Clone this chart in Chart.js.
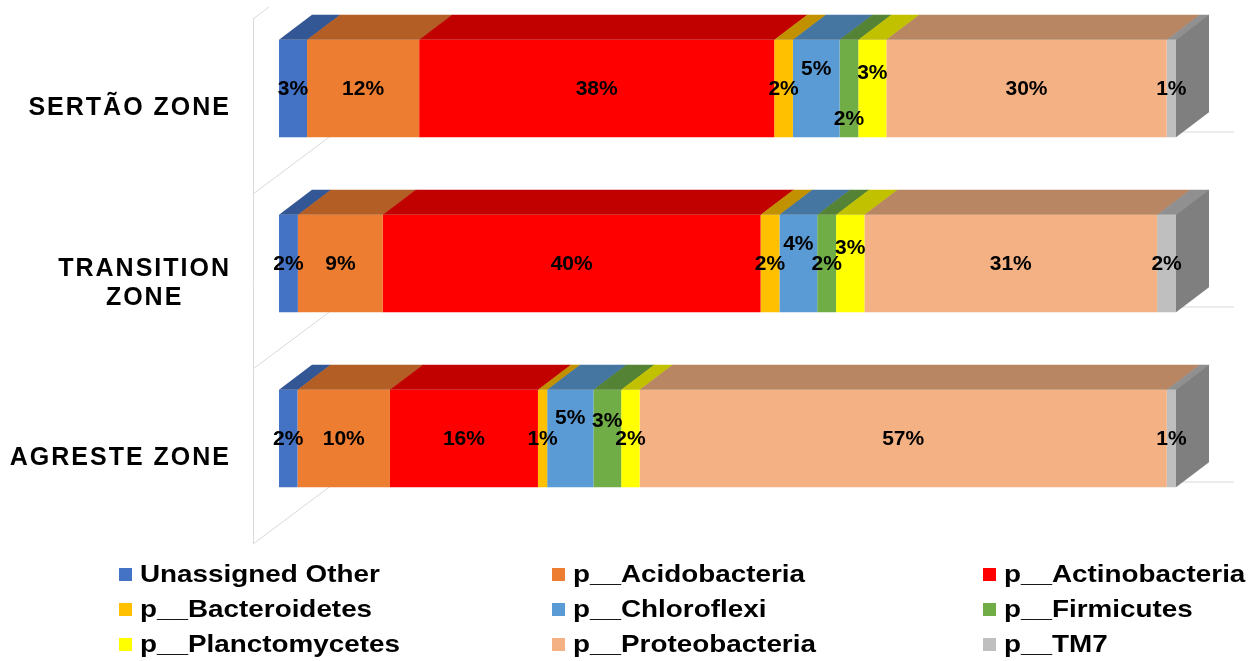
<!DOCTYPE html>
<html>
<head>
<meta charset="utf-8">
<title>Phyla by zone</title>
<script src="https://cdn.jsdelivr.net/npm/chart.js@4.4.1/dist/chart.umd.min.js"></script>
<style>
  html, body { margin: 0; padding: 0; background: #ffffff; }
  #wrap { position: relative; width: 1258px; height: 661px; overflow: hidden; }
  #c { position: absolute; left: 0; top: 0; }
  #legend { position: absolute; left: 0; top: 0; width: 1258px; height: 661px; pointer-events: none;
            font-family: "Liberation Sans", Arial, sans-serif; font-weight: bold; font-size: 24px; color: #000; }
  .item { position: absolute; height: 34px; display: flex; align-items: center; }
  .box { width: 13px; height: 13px; margin-right: 8px; flex: none; }
  .txt { display: inline-block; white-space: nowrap; transform: scaleX(1.16); transform-origin: left center; }
</style>
</head>
<body>
<div id="wrap">
  <canvas id="c" width="1258" height="661"></canvas>
  <div id="legend"></div>
</div>
<script>
// Zones (category axis) and their tick labels
const zones = ['SERTÃO ZONE', 'TRANSITION ZONE', 'AGRESTE ZONE'];
const zoneTickLabels = [['SERTÃO ZONE'], ['TRANSITION', 'ZONE'], ['AGRESTE ZONE']];

// Phyla (series)
const phyla = ['Unassigned Other', 'p__Acidobacteria', 'p__Actinobacteria',
               'p__Bacteroidetes', 'p__Chloroflexi', 'p__Firmicutes',
               'p__Planctomycetes', 'p__Proteobacteria', 'p__TM7'];

// Relative abundance (%) per zone: Sertão, Transition, Agreste
const unassignedOther = [3, 2, 2];
const acidobacteria   = [12, 9, 10];
const actinobacteria  = [38, 40, 16];
const bacteroidetes   = [2, 2, 1];
const chloroflexi     = [5, 4, 5];
const firmicutes      = [2, 2, 3];
const planctomycetes  = [3, 3, 2];
const proteobacteria  = [30, 31, 57];
const tm7             = [1, 2, 1];

const seriesValues = [unassignedOther, acidobacteria, actinobacteria, bacteroidetes,
                      chloroflexi, firmicutes, planctomycetes, proteobacteria, tm7];

// Series colours
const colors = ['#4472C4', '#ED7D31', '#FF0000', '#FFC000', '#5B9BD5',
                '#70AD47', '#FFFF00', '#F4B183', '#BFBFBF'];

// Vertical nudges for value labels on thin neighbouring segments (px), per series per zone
const labelNudge = {
  4: [-20, -20, -21],
  5: [30, 0, -18],
  6: [-16, -16, 0]
};

// 100% stacked: each zone's bar fills the axis, a segment spans its share of the zone total
const zoneTotals = zones.map((_, i) => seriesValues.reduce((s, arr) => s + arr[i], 0));

const datasets = phyla.map((name, d) => ({
  label: name,
  data: seriesValues[d].map((v, i) => v / zoneTotals[i] * 100),
  raw: seriesValues[d],
  backgroundColor: colors[d],
  borderWidth: 0,
  barPercentage: 0.557,
  categoryPercentage: 1.0
}));

// Fake depth of the 3-D look
const DEPTH_X = 33, DEPTH_Y = -25;

function shade(hex, f) {
  const n = parseInt(hex.slice(1), 16);
  const r = Math.round(((n >> 16) & 255) * f);
  const g = Math.round(((n >> 8) & 255) * f);
  const b = Math.round((n & 255) * f);
  return `rgb(${r},${g},${b})`;
}

// Floor / back wall guide lines behind the bars
const wallPlugin = {
  id: 'wall',
  beforeDatasetsDraw(chart) {
    const { ctx, chartArea, scales } = chart;
    const ys = scales.y;
    const step = ys.getPixelForValue(1) - ys.getPixelForValue(0);
    const frontX = chartArea.left - 26;
    const backDX = 83, backDY = -62, drop = 18;
    const wallRight = chartArea.right + 58;
    ctx.save();
    ctx.beginPath();
    ctx.rect(0, 7, chart.width, chart.height);
    ctx.clip();
    ctx.strokeStyle = '#D9D9D9';
    ctx.lineWidth = 1;
    const firstY = ys.getPixelForValue(0) - step / 2 + drop;
    const lastY = ys.getPixelForValue(zones.length - 1) + step / 2 + drop;
    ctx.beginPath();
    ctx.moveTo(frontX + 0.5, firstY);
    ctx.lineTo(frontX + 0.5, lastY);
    ctx.stroke();
    for (let k = 0; k <= zones.length; k++) {
      const yf = ys.getPixelForValue(k - 0.5) + drop;
      ctx.beginPath();
      ctx.moveTo(frontX, yf);
      ctx.lineTo(frontX + backDX, yf + backDY);
      ctx.lineTo(wallRight, yf + backDY);
      ctx.stroke();
    }
    ctx.restore();
  }
};

// Top faces of every segment and the right-hand end face of each bar
const depthPlugin = {
  id: 'depth',
  afterDatasetsDraw(chart) {
    const ctx = chart.ctx;
    const n = chart.data.datasets.length;
    ctx.save();
    for (let i = 0; i < zones.length; i++) {
      for (let d = 0; d < n; d++) {
        const el = chart.getDatasetMeta(d).data[i];
        const p = el.getProps(['x', 'y', 'base', 'height'], true);
        const top = p.y - p.height / 2;
        const bottom = p.y + p.height / 2;
        const x0 = Math.min(p.base, p.x), x1 = Math.max(p.base, p.x);
        ctx.fillStyle = shade(colors[d], 0.755);
        ctx.beginPath();
        ctx.moveTo(x0, top);
        ctx.lineTo(x1 + 0.6, top);
        ctx.lineTo(x1 + 0.6 + DEPTH_X, top + DEPTH_Y);
        ctx.lineTo(x0 + DEPTH_X, top + DEPTH_Y);
        ctx.closePath();
        ctx.fill();
        if (d === n - 1) {
          ctx.fillStyle = shade(colors[d], 0.665);
          ctx.beginPath();
          ctx.moveTo(x1, top);
          ctx.lineTo(x1 + DEPTH_X, top + DEPTH_Y);
          ctx.lineTo(x1 + DEPTH_X, bottom + DEPTH_Y);
          ctx.lineTo(x1, bottom);
          ctx.closePath();
          ctx.fill();
        }
      }
    }
    ctx.restore();
  }
};

// Value labels and zone labels
const textPlugin = {
  id: 'texts',
  afterDraw(chart) {
    const { ctx, chartArea, scales } = chart;
    ctx.save();
    // value labels
    ctx.font = 'bold 21px "Liberation Sans", Arial, sans-serif';
    ctx.fillStyle = '#000000';
    ctx.textAlign = 'center';
    ctx.textBaseline = 'middle';
    chart.data.datasets.forEach((ds, d) => {
      chart.getDatasetMeta(d).data.forEach((el, i) => {
        const p = el.getProps(['x', 'y', 'base'], true);
        const nudge = labelNudge[d] ? labelNudge[d][i] : 0;
        ctx.fillText(Math.round(ds.raw[i]) + '%', (p.x + p.base) / 2, p.y + nudge + 1);
      });
    });
    // zone labels, letter-spaced, right-aligned as a block
    const spacing = 2;
    ctx.font = 'bold 25px "Liberation Sans", Arial, sans-serif';
    ctx.textAlign = 'left';
    const right = chartArea.left - 50;
    const lineH = 29.5;
    zoneTickLabels.forEach((lines, i) => {
      const cy = scales.y.getPixelForValue(i) + 20;
      ctx.letterSpacing = '0px';
      const widths = lines.map(t => ctx.measureText(t).width + spacing * (t.length - 1));
      const blockW = Math.max(...widths);
      const mid = right - blockW / 2;
      ctx.letterSpacing = spacing + 'px';
      lines.forEach((t, k) => {
        const y = cy + (k - (lines.length - 1) / 2) * lineH;
        ctx.fillText(t, mid - widths[k] / 2, y);
      });
    });
    ctx.restore();
  }
};

new Chart(document.getElementById('c'), {
  type: 'bar',
  data: { labels: zones, datasets },
  options: {
    indexAxis: 'y',
    responsive: false,
    animation: false,
    events: [],
    layout: { padding: { left: 279, right: 82, top: 1, bottom: 135 } },
    scales: {
      x: { stacked: true, min: 0, max: 100, display: false },
      y: { stacked: true, display: false }
    },
    plugins: { legend: { display: false }, tooltip: { enabled: false } }
  },
  plugins: [wallPlugin, depthPlugin, textPlugin]
});

// Legend in three columns
const legendCols = [119, 552, 983];
const legendRows = [574, 609, 644];
const legendEl = document.getElementById('legend');
phyla.forEach((name, d) => {
  const item = document.createElement('div');
  item.className = 'item';
  item.style.left = legendCols[d % 3] + 'px';
  item.style.top = (legendRows[Math.floor(d / 3)] - 17) + 'px';
  const box = document.createElement('span');
  box.className = 'box';
  box.style.background = colors[d];
  const txt = document.createElement('span');
  txt.className = 'txt';
  txt.textContent = name;
  item.appendChild(box);
  item.appendChild(txt);
  legendEl.appendChild(item);
});
</script>
</body>
</html>
